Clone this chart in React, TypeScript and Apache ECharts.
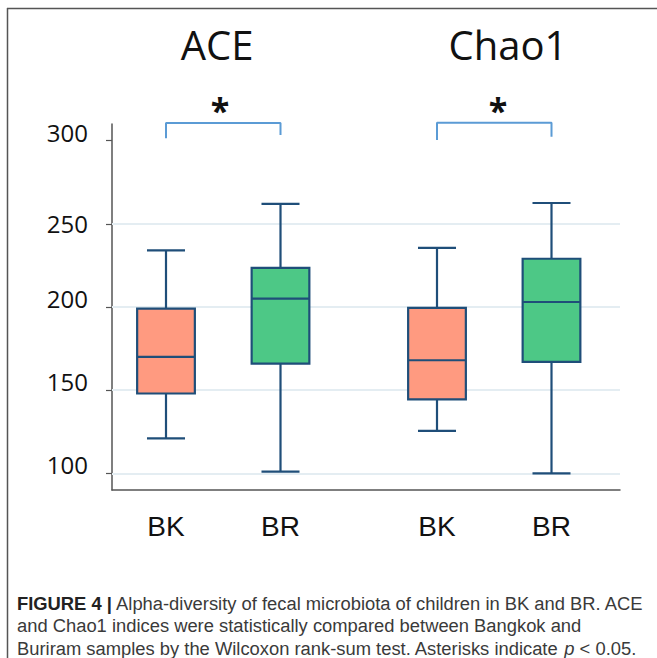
import React, { useEffect, useRef } from "react";
import * as echarts from "echarts";

// ---- data ----
const groups = ["BK", "BR"];
const panelTitles = ["ACE", "Chao1"];
const yTicks = [100, 150, 200, 250, 300];
const gridValues = [100, 150, 200, 250];

const aceMin = [121, 101];
const aceQ1 = [148, 166];
const aceMedian = [170, 205];
const aceQ3 = [199, 223.5];
const aceMax = [234, 262];

const chaoMin = [125.5, 100];
const chaoQ1 = [144.5, 167];
const chaoMedian = [168, 203];
const chaoQ3 = [199.5, 229];
const chaoMax = [235.5, 262.5];

// bracket ends [left bottom, top, right bottom]
const aceBracket = [301.4, 310.6, 303.4];
const chaoBracket = [300.4, 310.8, 302.4];

const boxColors = ["#FF9A80", "#4DC886"];
const edgeColor = "#1F4E79";

const FONT = "'Open Sans', 'Noto Sans', sans-serif";
const XFONT = "'Liberation Sans', Arial, sans-serif";
const CAPTION_FONT = "'Liberation Sans', Arial, sans-serif";

function buildRows(mn: number[], q1: number[], med: number[], q3: number[], mx: number[]) {
  return groups.map((_, i) => [i, mn[i], q1[i], med[i], q3[i], mx[i]]);
}

function renderBox(params: any, api: any) {
  const idx = api.value(0);
  const band = api.size([1, 0])[0];
  const pMin = api.coord([idx, api.value(1)]);
  const pQ1 = api.coord([idx, api.value(2)]);
  const pMed = api.coord([idx, api.value(3)]);
  const pQ3 = api.coord([idx, api.value(4)]);
  const pMax = api.coord([idx, api.value(5)]);
  const cx = pMed[0];
  const hb = band * 0.252;
  const hc = band * 0.166;
  const ls = { stroke: edgeColor, lineWidth: 2.2, fill: "none" };
  return {
    type: "group",
    children: [
      { type: "line", shape: { x1: cx, y1: pQ3[1], x2: cx, y2: pMax[1] }, style: ls },
      { type: "line", shape: { x1: cx, y1: pQ1[1], x2: cx, y2: pMin[1] }, style: ls },
      { type: "line", shape: { x1: cx - hc, y1: pMax[1], x2: cx + hc, y2: pMax[1] }, style: ls },
      { type: "line", shape: { x1: cx - hc, y1: pMin[1], x2: cx + hc, y2: pMin[1] }, style: ls },
      {
        type: "rect",
        shape: { x: cx - hb, y: pQ3[1], width: hb * 2, height: pQ1[1] - pQ3[1] },
        style: { fill: boxColors[idx], stroke: edgeColor, lineWidth: 2.2 },
      },
      { type: "line", shape: { x1: cx - hb, y1: pMed[1], x2: cx + hb, y2: pMed[1] }, style: ls },
    ],
  };
}

export default function App() {
  const ref = useRef<HTMLDivElement>(null);
  useEffect(() => {
    if (!ref.current) return;
    const chart = echarts.init(ref.current, null, { renderer: "svg" });
    const yMin = 90;
    const yMax = 310;
    const gridTop = 124;
    const gridHeight = 366;
    const hiddenY = (gi: number) => ({
      type: "value",
      gridIndex: gi,
      min: yMin,
      max: yMax,
      show: false,
    });
    const catX = (gi: number) => ({
      type: "category",
      gridIndex: gi,
      data: groups,
      axisLine: { show: false },
      axisTick: { show: false },
      axisLabel: { fontSize: 28, fontFamily: XFONT, color: "#111", margin: 22 },
      splitLine: { show: false },
    });
    const bracket = (gi: number, b: number[]) => ({
      type: "line",
      xAxisIndex: gi,
      yAxisIndex: gi,
      clip: false,
      symbol: "none",
      silent: true,
      lineStyle: { color: "#5B9BD5", width: 2 },
      data: [
        [groups[0], b[0]],
        [groups[0], b[1]],
        [groups[1], b[1]],
        [groups[1], b[2]],
      ],
    });
    const captionLine = (y: number, text: string, rich?: any) => ({
      type: "text",
      x: 17,
      y,
      scaleX: 0.967,
      style: {
        text,
        font: `19px ${CAPTION_FONT}`,
        fill: "#3a3a3a",
        verticalAlign: "middle",
        rich,
      },
    });
    const option: any = {
      animation: false,
      backgroundColor: "#fff",
      grid: [
        { left: 112, width: 508, top: gridTop, height: gridHeight },
        { left: 108.75, width: 229, top: gridTop, height: gridHeight },
        { left: 379.75, width: 229, top: gridTop, height: gridHeight },
      ],
      xAxis: [
        {
          type: "value",
          gridIndex: 0,
          min: 0,
          max: 1,
          axisLine: { show: true, onZero: false, lineStyle: { color: "#555", width: 1.5 } },
          axisTick: { show: false },
          axisLabel: { show: false },
          splitLine: { show: false },
        },
        catX(1),
        catX(2),
      ],
      yAxis: [
        {
          type: "value",
          gridIndex: 0,
          min: yMin,
          max: yMax,
          axisLine: { show: true, lineStyle: { color: "#555", width: 1.5 } },
          axisTick: { show: true, length: 6, customValues: yTicks, lineStyle: { color: "#555", width: 1.2 } },
          axisLabel: {
            customValues: yTicks,
            margin: 24,
            fontSize: 24,
            fontFamily: FONT,
            color: "#111",
            formatter: (v: number) => (v === 250 ? `{m|${v}}` : `{u|${v}}`),
            rich: {
              m: { fontSize: 24, fontFamily: FONT, color: "#111" },
              u: { fontSize: 24, fontFamily: FONT, color: "#111", padding: [0, 0, 17, 0] },
            },
          },
          splitLine: { show: false },
        },
        hiddenY(1),
        hiddenY(2),
      ],
      series: [
        {
          type: "line",
          xAxisIndex: 0,
          yAxisIndex: 0,
          data: [],
          silent: true,
          markLine: {
            silent: true,
            symbol: "none",
            label: { show: false },
            lineStyle: { color: "#E4EDF2", width: 2, type: "solid" },
            data: gridValues.map((v) => ({ yAxis: v })),
          },
        },
        {
          type: "custom",
          xAxisIndex: 1,
          yAxisIndex: 1,
          renderItem: renderBox,
          data: buildRows(aceMin, aceQ1, aceMedian, aceQ3, aceMax),
          z: 5,
        },
        {
          type: "custom",
          xAxisIndex: 2,
          yAxisIndex: 2,
          renderItem: renderBox,
          data: buildRows(chaoMin, chaoQ1, chaoMedian, chaoQ3, chaoMax),
          z: 5,
        },
        bracket(1, aceBracket),
        bracket(2, chaoBracket),
      ],
      graphic: [
        { type: "line", shape: { x1: 7, y1: 8.5, x2: 657, y2: 8.5 }, style: { stroke: "#555", lineWidth: 1.5 } },
        { type: "line", shape: { x1: 7.5, y1: 8, x2: 7.5, y2: 658 }, style: { stroke: "#555", lineWidth: 1.5 } },
        {
          type: "text",
          x: 217,
          y: 44,
          style: { text: panelTitles[0], font: `40px ${FONT}`, fill: "#111", align: "center", verticalAlign: "middle" },
        },
        {
          type: "text",
          x: 508,
          y: 44,
          style: { text: panelTitles[1], font: `40px ${FONT}`, fill: "#111", align: "center", verticalAlign: "middle" },
        },
        {
          type: "text",
          x: 220,
          y: 110,
          style: { text: "*", font: `bold 34px ${FONT}`, fill: "#111", align: "center", verticalAlign: "middle" },
        },
        {
          type: "text",
          x: 498,
          y: 110,
          style: { text: "*", font: `bold 34px ${FONT}`, fill: "#111", align: "center", verticalAlign: "middle" },
        },
        captionLine(603, "{b|FIGURE 4 |} Alpha-diversity of fecal microbiota of children in BK and BR. ACE", {
          b: { font: `bold 19px ${CAPTION_FONT}`, fill: "#222" },
        }),
        captionLine(625.5, "and Chao1 indices were statistically compared between Bangkok and"),
        captionLine(648, "Buriram samples by the Wilcoxon rank-sum test. Asterisks indicate {i|p} < 0.05.", {
          i: { font: `italic 19px ${CAPTION_FONT}`, fill: "#3a3a3a" },
        }),
      ],
    };
    chart.setOption(option);
    return () => chart.dispose();
  }, []);
  return (
    <div
      ref={ref}
      style={{ position: "fixed", left: 0, top: 0, width: 657, height: 658, background: "#fff" }}
    />
  );
}
